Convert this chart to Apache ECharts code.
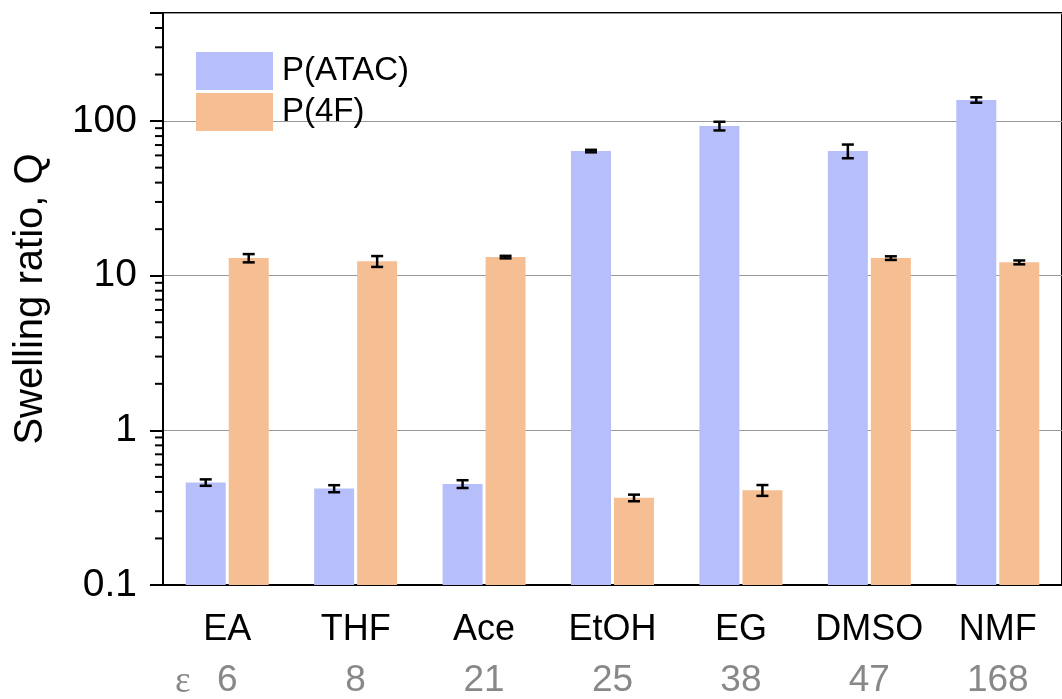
<!DOCTYPE html>
<html>
<head>
<meta charset="utf-8">
<script src="https://cdn.jsdelivr.net/npm/echarts@6/dist/echarts.min.js"></script>
<style>html,body{margin:0;padding:0;background:#fff;}#c{width:1062px;height:699px;}</style>
</head>
<body>
<div id="c"></div>
<script>
const categories = ['EA', 'THF', 'Ace', 'EtOH', 'EG', 'DMSO', 'NMF'];
const epsilonLabels = ['6', '8', '21', '25', '38', '47', '168'];
const atacValues = [0.46, 0.42, 0.45, 64, 93, 64, 137];
const atacErrors = [0.022, 0.022, 0.026, 1.2, 6, 6.5, 5.5];
const f4Values = [13.0, 12.4, 13.2, 0.366, 0.41, 13.0, 12.2];
const f4Errors = [0.8, 1.0, 0.25, 0.018, 0.033, 0.35, 0.35];
const majorTicks = [0.1, 1, 10, 100];
const minorTicks = [0.2,0.3,0.4,0.5,0.6,0.7,0.8,0.9,2,3,4,5,6,7,8,9,20,30,40,50,60,70,80,90,200,300,400];
const Y_MIN = 0.1, Y_MAX = 500;

const BAR_W = 40;
const BAR_GAP = 3;
const FONT = '"Liberation Sans", Arial, sans-serif';

function barData(vals, errs) {
  return vals.map((v, i) => [i, v, errs[i]]);
}
function barRender(sign, color) {
  return function (params, api) {
    const i = api.value(0), v = api.value(1), e = api.value(2);
    const top = api.coord([i, v]);
    const bottom = api.coord([i, Y_MIN]);
    const hi = api.coord([i, v + e]);
    const lo = api.coord([i, v - e]);
    const cx = top[0] + sign * (BAR_W + BAR_GAP) / 2;
    const cw = 6;
    const st = { stroke: '#000', lineWidth: 2.5 };
    return {
      type: 'group',
      children: [
        { type: 'rect', shape: { x: cx - BAR_W / 2, y: top[1], width: BAR_W, height: bottom[1] - top[1] }, style: { fill: color } },
        { type: 'line', shape: { x1: cx, y1: hi[1], x2: cx, y2: lo[1] }, style: st },
        { type: 'line', shape: { x1: cx - cw, y1: hi[1], x2: cx + cw, y2: hi[1] }, style: st },
        { type: 'line', shape: { x1: cx - cw, y1: lo[1], x2: cx + cw, y2: lo[1] }, style: st }
      ]
    };
  };
}
function minorTickRender(params, api) {
  const y = api.coord([0, api.value(1)])[1];
  const x = params.coordSys.x;
  return { type: 'line', shape: { x1: x - 8, y1: y, x2: x, y2: y }, style: { stroke: '#000', lineWidth: 2 } };
}

const COLOR_A = '#B7BFFA', COLOR_F = '#F6BF93';
const chart = echarts.init(document.getElementById('c'), null, { renderer: 'canvas' });
chart.setOption({
  animation: false,
  backgroundColor: '#fff',
  grid: { left: 163, right: -11, top: 13, bottom: 112, show: true, borderColor: '#000', borderWidth: 2, containLabel: false },
  legend: {
    data: ['P(ATAC)', 'P(4F)'],
    orient: 'vertical', left: 196, top: 52, padding: 0,
    itemWidth: 77, itemHeight: 38, itemGap: 3,
    icon: 'rect',
    textStyle: { fontFamily: FONT, fontSize: 33, color: '#000', padding: [0, 0, 0, 4] }
  },
  xAxis: [
    {
      type: 'category', data: categories, position: 'bottom',
      axisLine: { lineStyle: { color: '#000', width: 2 } },
      axisTick: { show: false },
      axisLabel: { interval: 0, fontFamily: FONT, fontSize: 36, color: '#000', margin: 27 }
    },
    {
      type: 'category', data: epsilonLabels, position: 'bottom',
      axisLine: { show: false }, axisTick: { show: false },
      axisLabel: { interval: 0, fontFamily: FONT, fontSize: 37, color: '#888', margin: 77 }
    }
  ],
  yAxis: [
    {
      type: 'log', logBase: 10, min: Y_MIN, max: Y_MAX, interval: 1,
      name: 'Swelling ratio, Q', nameLocation: 'middle', nameGap: 112,
      nameTextStyle: { fontFamily: FONT, fontSize: 40, color: '#000' },
      axisLine: { show: true, lineStyle: { color: '#000', width: 2 } },
      axisTick: { show: true, length: 13, lineStyle: { color: '#000', width: 2 } },
      axisLabel: {
        fontFamily: FONT, fontSize: 39, color: '#000', margin: 26,
        formatter: function (v) { return majorTicks.some(t => Math.abs(t - v) < 1e-9) ? String(v) : ''; }
      },
      splitLine: { show: true, lineStyle: { color: '#999', width: 1.2 } }
    }
  ],
  series: [
    { name: 'P(ATAC)', type: 'custom', renderItem: barRender(-1, COLOR_A), data: barData(atacValues, atacErrors), encode: { x: 0, y: 1 }, itemStyle: { color: COLOR_A }, z: 3 },
    { name: 'P(4F)', type: 'custom', renderItem: barRender(1, COLOR_F), data: barData(f4Values, f4Errors), encode: { x: 0, y: 1 }, itemStyle: { color: COLOR_F }, z: 3 },
    { type: 'custom', renderItem: minorTickRender, data: minorTicks.map(v => [0, v]), encode: { x: 0, y: 1 }, clip: false, z: 4, silent: true }
  ],
  graphic: [
    { type: 'text', left: 175, top: 664, style: { text: 'ε', fontFamily: '"Liberation Serif", serif', fontSize: 37, fill: '#888' } }
  ]
});
</script>
</body>
</html>
